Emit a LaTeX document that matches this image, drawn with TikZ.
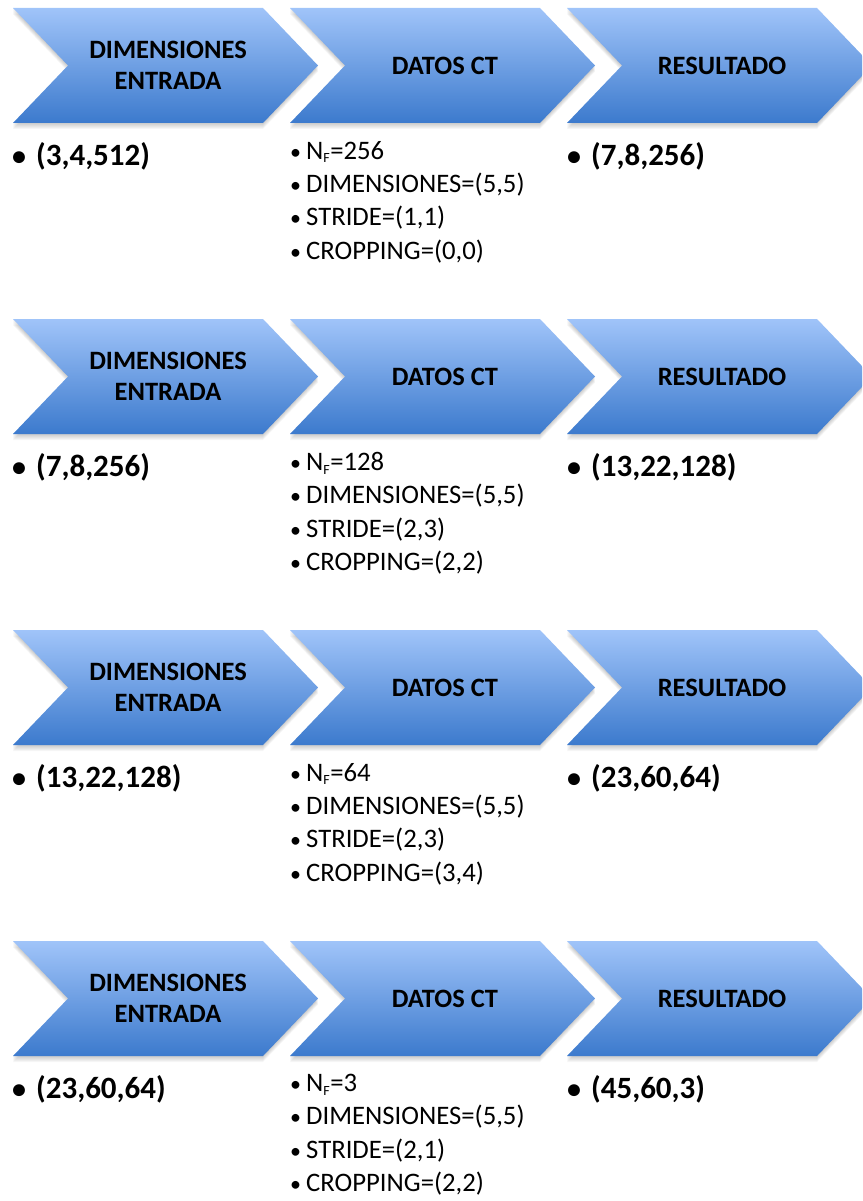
\documentclass[tikz,border=0pt]{standalone}
\usepackage{fontspec}
\setmainfont{Carlito}
\usetikzlibrary{calc}

\definecolor{chevtop}{RGB}{160,196,249}
\definecolor{chevbot}{RGB}{60,122,205}

\tikzset{
  chevfill/.style={top color=chevtop, bottom color=chevbot, draw=none},
  headtext/.style={font=\fontsize{26.5}{31}\selectfont\bfseries, align=center, text=black, inner sep=0pt},
  valtext/.style={font=\fontsize{31}{33}\selectfont\bfseries, anchor=west, inner sep=0pt},
  listtext/.style={font=\fontsize{26.7}{33.3}\selectfont, anchor=north west, align=left, inner sep=0pt},
}

% chevron: left x, top y, name, label
\newcommand\chevbox[4]{%
  \foreach \k in {1,...,6}{%
    \fill[black, opacity=0.035]
      (#1,#2+\k) -- ++(250,0) -- ++(55,57.5) -- ++(-55,57.5) -- ++(-250,0) -- ++(55,-57.5) -- cycle;
  }
  \shade[chevfill]
    (#1,#2) -- ++(250,0) -- ++(55,57.5) -- ++(-55,57.5) -- ++(-250,0) -- ++(55,-57.5) -- cycle;
  \node[headtext] (#3) at (#1+155,#2+57.5) {#4};
}

\newcommand\bigval[4]{% x, y, name, text
  \node[valtext] (#3) at (#1,#2) {{\fontsize{28}{28}\selectfont\textbullet}\hspace{10pt}#4};
}

\newcommand\nf{N\textsubscript{\fontsize{14}{14}\selectfont F}}
\newcommand\lbul{{\fontsize{22}{22}\selectfont\textbullet}\hspace{5pt}}

\newcommand\ctlist[5]{% y, name, nf, stride, crop
  \node[listtext] (#2) at (290,#1) {%
    \lbul #3\\
    \lbul DIMENSIONES=(5,5)\\
    \lbul STRIDE=#4\\
    \lbul CROPPING=#5};
}

\begin{document}
\begin{tikzpicture}[x=1pt, y=-1pt]
  \useasboundingbox (0,0) rectangle (862,1201);
  \clip (0,0) rectangle (862,1201);

  \foreach \rowoff/\inpv/\nfv/\stridev/\cropv/\resv [count=\i] in {
      0/{(3,4,512)}/{256}/{(1,1)}/{(0,0)}/{(7,8,256)},
      311/{(7,8,256)}/{128}/{(2,3)}/{(2,2)}/{(13,22,128)},
      622/{(13,22,128)}/{64}/{(2,3)}/{(3,4)}/{(23,60,64)},
      933/{(23,60,64)}/{3}/{(2,1)}/{(2,2)}/{(45,60,3)}} {
    \chevbox{13}{8+\rowoff}{in\i}{DIMENSIONES\\ENTRADA}
    \chevbox{290}{8+\rowoff}{ct\i}{DATOS CT}
    \chevbox{567}{8+\rowoff}{out\i}{RESULTADO}
    \bigval{12}{156+\rowoff}{inval\i}{\inpv}
    \bigval{567}{156+\rowoff}{outval\i}{\resv}
    \ctlist{141+\rowoff}{ctlist\i}{\nf=\nfv}{\stridev}{\cropv}
  }
\end{tikzpicture}
\end{document}
